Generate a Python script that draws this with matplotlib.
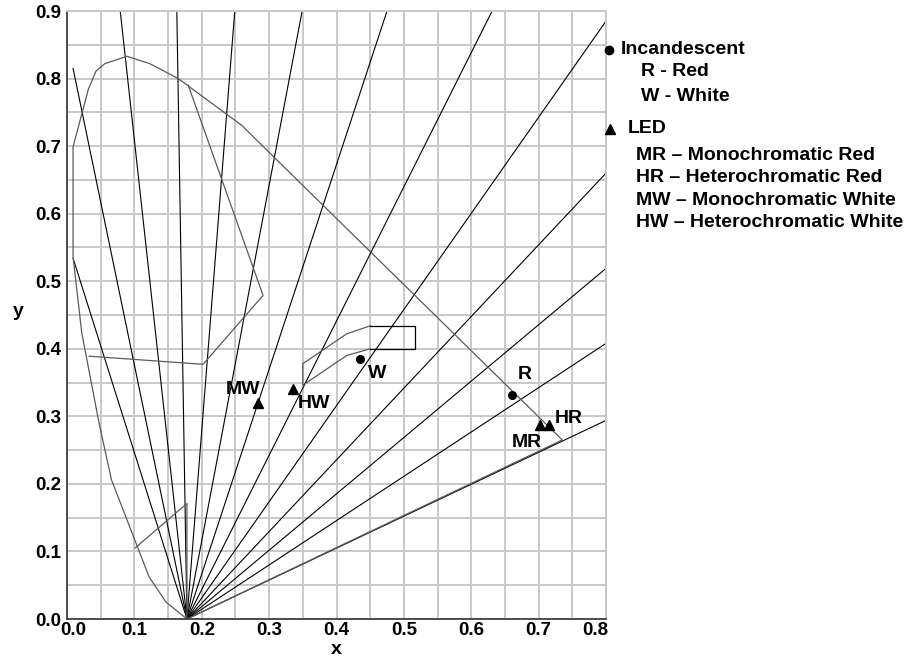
import matplotlib
matplotlib.use("Agg")
import numpy as np
import matplotlib.pyplot as plt
import matplotlib.transforms as mtransforms

plt.rcParams['font.family'] = ['Liberation Sans', 'DejaVu Sans']
plt.rcParams['font.weight'] = 'bold'

# ------------- Data -------------
# fan of lines, all starting at the blue end of the locus
FAN_ORIGIN = (0.178, 0.0)
fan_end_x = [0.009, 0.009, 0.079, 0.163, 0.249, 0.349, 0.475, 0.631, 0.80, 0.80, 0.80, 0.80, 0.80]
fan_end_y = [0.815, 0.534, 0.90, 0.90, 0.90, 0.90, 0.90, 0.90, 0.885, 0.660, 0.519, 0.408, 0.294]

# coarse spectrum locus + purple line back to the start
locus_x = [0.178, 0.147, 0.122, 0.066, 0.048, 0.022, 0.009, 0.009, 0.032, 0.043, 0.056, 0.089, 0.123, 0.165, 0.259, 0.360, 0.735, 0.178]
locus_y = [0.000, 0.025, 0.062, 0.206, 0.288, 0.423, 0.536, 0.699, 0.785, 0.811, 0.822, 0.833, 0.822, 0.800, 0.731, 0.632, 0.265, 0.000]

# region boundaries
green_x = [0.180, 0.291, 0.202, 0.033]
green_y = [0.790, 0.479, 0.377, 0.389]
blue_x = [0.101, 0.178, 0.178]
blue_y = [0.105, 0.171, 0.000]
white_x = [0.450, 0.415, 0.350, 0.350, 0.415, 0.450]
white_y = [0.434, 0.422, 0.378, 0.346, 0.390, 0.400]
box_x = [0.450, 0.517, 0.517, 0.450]
box_y = [0.434, 0.434, 0.400, 0.400]

# measured sources
incand_labels = ["R", "W"]
incand_x = [0.661, 0.435]
incand_y = [0.331, 0.385]
led_labels = ["MR", "HR", "MW", "HW"]
led_x = [0.702, 0.715, 0.284, 0.336]
led_y = [0.287, 0.287, 0.320, 0.341]
# label centre offsets from the marker
incand_off = [(0.019, 0.031), (0.026, -0.022)]
led_off = [(-0.019, -0.026), (0.029, 0.010), (-0.023, 0.019), (0.030, -0.022)]

led_lines = [
    "MR \u2013 Monochromatic Red",
    "HR \u2013 Heterochromatic Red",
    "MW \u2013 Monochromatic White",
    "HW \u2013 Heterochromatic White",
]

GRID = "#c8c8c8"
GREY = "#5a5a5a"
LEG_FS = 14

fig = plt.figure(figsize=(9.09, 6.58), dpi=100)
ax = fig.add_axes([67 / 909, 39 / 658, 539 / 909, 608 / 658])
ax.set_xlim(0, 0.8)
ax.set_ylim(0, 0.9)

ax.set_xticks(np.arange(0, 0.81, 0.1))
ax.set_yticks(np.arange(0, 0.91, 0.1))
ax.set_xticks(np.arange(0, 0.81, 0.05), minor=True)
ax.set_yticks(np.arange(0, 0.91, 0.05), minor=True)
ax.set_xticklabels([f"{v:.1f}" for v in np.arange(0, 0.81, 0.1)])
ax.set_yticklabels([f"{v:.1f}" for v in np.arange(0, 0.91, 0.1)])
ax.grid(True, which="both", color=GRID, lw=1.4, zorder=0)
ax.set_axisbelow(True)
ax.tick_params(which="both", length=0, labelsize=13.5)
ax.tick_params(axis="x", pad=2)
ax.tick_params(axis="y", pad=4)
for lab in ax.get_xticklabels() + ax.get_yticklabels():
    lab.set_fontweight("bold")
# end labels of the x axis sit inside the frame, as in the reference
xlabs = ax.get_xticklabels()
xlabs[0].set_transform(xlabs[0].get_transform() + mtransforms.ScaledTranslation(6 / 100, 0, fig.dpi_scale_trans))
xlabs[-1].set_transform(xlabs[-1].get_transform() + mtransforms.ScaledTranslation(-11 / 100, 0, fig.dpi_scale_trans))
for s in ["top", "right"]:
    ax.spines[s].set_color(GRID)
    ax.spines[s].set_linewidth(1.4)
for s in ["left", "bottom"]:
    ax.spines[s].set_color("#333333")
    ax.spines[s].set_linewidth(1.2)

ax.set_xlabel("x", fontsize=14, fontweight="bold", va="center")
ax.set_ylabel("y", fontsize=14, fontweight="bold", rotation=0, va="center")
ax.xaxis.set_label_coords(0.5, -0.05)
ax.yaxis.set_label_coords(-0.09, 0.505)

# fan lines
for ex, ey in zip(fan_end_x, fan_end_y):
    ax.plot([FAN_ORIGIN[0], ex], [FAN_ORIGIN[1], ey], color="black", lw=0.8, zorder=2)

ax.plot(locus_x, locus_y, color=GREY, lw=0.9, zorder=2)
ax.plot(green_x, green_y, color=GREY, lw=0.9, zorder=2)
ax.plot(blue_x, blue_y, color=GREY, lw=0.9, zorder=2)
ax.plot(white_x, white_y, color=GREY, lw=0.9, zorder=2)
ax.plot(box_x, box_y, color="black", lw=0.9, zorder=2)

# markers + labels
ax.plot(incand_x, incand_y, "o", color="black", ms=5.5, zorder=4)
ax.plot(led_x, led_y, "^", color="black", ms=7, zorder=4)
for lab, x, y, (dx, dy) in zip(incand_labels, incand_x, incand_y, incand_off):
    ax.text(x + dx, y + dy, lab, fontsize=14, fontweight="bold", ha="center", va="center")
for lab, x, y, (dx, dy) in zip(led_labels, led_x, led_y, led_off):
    ax.text(x + dx, y + dy, lab, fontsize=14, fontweight="bold", ha="center", va="center")

# legend written beside the plot
ax.plot([0.805], [0.843], "o", color="black", ms=6, clip_on=False, zorder=5)
ax.text(0.822, 0.843, "Incandescent", fontsize=LEG_FS, fontweight="bold", va="center")
ax.text(0.852, 0.810, "R - Red", fontsize=LEG_FS, fontweight="bold", va="center")
ax.text(0.852, 0.774, "W - White", fontsize=LEG_FS, fontweight="bold", va="center")
ax.plot([0.806], [0.726], "^", color="black", ms=7, clip_on=False, zorder=5)
ax.text(0.833, 0.726, "LED", fontsize=LEG_FS, fontweight="bold", va="center")
for i, line in enumerate(led_lines):
    ax.text(0.845, 0.686 - i * 0.033, line, fontsize=LEG_FS, fontweight="bold", va="center")

fig.savefig("out.png", dpi=100)
